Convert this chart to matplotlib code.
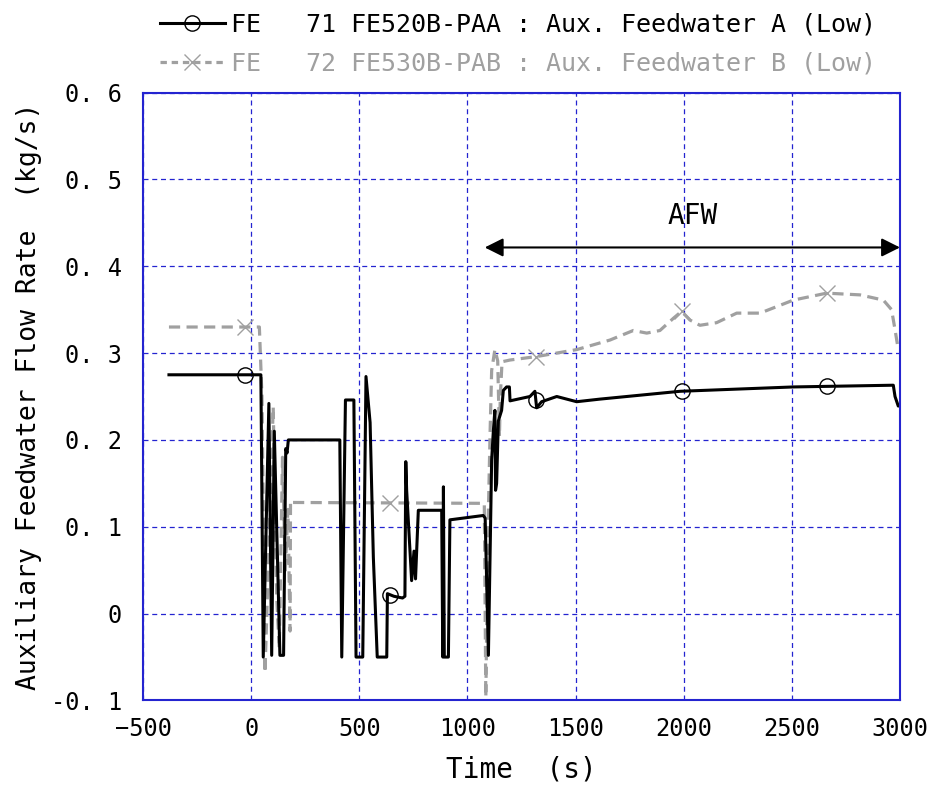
import numpy as np
import matplotlib
matplotlib.use("Agg")
import matplotlib.pyplot as plt
from matplotlib.lines import Line2D

plt.rcParams['font.family'] = ['DejaVu Sans Mono']

# FE 71 (black) and FE 72 (gray) flow rates
time_a = [-380, 45, 56, 82, 95, 107, 133, 150, 160, 166,
          172, 410, 419, 436, 475, 485, 516, 531, 550, 565,
          583, 627, 630, 660, 700, 711, 715, 719, 742, 753,
          760, 773, 881, 886, 889, 893, 912, 919, 1073, 1082,
          1097, 1112, 1120, 1127, 1130, 1135, 1143, 1158, 1166, 1181,
          1194, 1197, 1289, 1312, 1320, 1343, 1413, 1505, 1613, 1983,
          2507, 2969, 2977, 2992, 3000]
flow_a = [0.275, 0.275, -0.05, 0.242, -0.048, 0.21, -0.048, -0.048, 0.19, 0.185,
          0.2, 0.2, -0.05, 0.246, 0.246, -0.05, -0.05, 0.273, 0.22, 0.065,
          -0.05, -0.05, 0.023, 0.02, 0.018, 0.02, 0.175, 0.142, 0.038, 0.072,
          0.04, 0.119, 0.119, -0.05, 0.146, -0.05, -0.05, 0.108, 0.113, 0.11,
          -0.048, 0.177, 0.211, 0.234, 0.142, 0.15, 0.222, 0.234, 0.257, 0.261,
          0.261, 0.245, 0.25, 0.256, 0.237, 0.244, 0.25, 0.244, 0.247, 0.256,
          0.261, 0.263, 0.25, 0.239, 0.24]

time_b = [-380, 38, 50, 64, 102, 118, 130, 145, 158, 170,
          180, 182, 190, 1078, 1085, 1095, 1105, 1112, 1127, 1140,
          1148, 1152, 1160, 1197, 1320, 1505, 1659, 1767, 1829, 1890,
          1952, 1990, 2029, 2075, 2152, 2245, 2353, 2507, 2661, 2815,
          2923, 2961, 2977, 2992]
flow_b = [0.33, 0.33, 0.25, -0.068, 0.238, 0.02, -0.04, 0.18, 0.05, 0.12,
          -0.02, 0.13, 0.128, 0.127, -0.096, 0.096, 0.211, 0.28, 0.304, 0.291,
          0.204, 0.25, 0.29, 0.292, 0.296, 0.304, 0.315, 0.326, 0.323, 0.326,
          0.34, 0.348, 0.338, 0.332, 0.335, 0.346, 0.346, 0.361, 0.369, 0.367,
          0.361, 0.35, 0.327, 0.304]

marker_times = [-30, 642, 1316, 1990, 2661]

label_a = "FE   71 FE520B-PAA : Aux. Feedwater A (Low)"
label_b = "FE   72 FE530B-PAB : Aux. Feedwater B (Low)"
gray = "#a0a0a0"
blue = "#2424d0"

fig = plt.figure(figsize=(9.31, 7.90), dpi=100)
ax = fig.add_axes([0.1536, 0.1133, 0.8131, 0.7696])

ax.plot(time_b, flow_b, color=gray, lw=2.3, dashes=(3.5, 2))
ax.plot(time_a, flow_a, color="black", lw=2.2)
ax.plot(marker_times, np.interp(marker_times, time_b, flow_b), ls="none",
        marker="x", ms=11, mew=1.0, color=gray)
ax.plot(marker_times, np.interp(marker_times, time_a, flow_a), ls="none",
        marker="o", ms=11, mew=1.0, mfc="none", mec="black")

# AFW period
ax.annotate("", xy=(1080, 0.4216), xytext=(3000, 0.4216),
            arrowprops=dict(arrowstyle="<|-|>", color="black", lw=1.5,
                            mutation_scale=28, shrinkA=0, shrinkB=0))
ax.text(2043, 0.458, "AFW", ha="center", va="center", fontsize=20)

ax.set_xlim(-500, 3000)
ax.set_ylim(-0.1, 0.6)
ax.set_xticks(np.arange(-500, 3001, 500))
ax.set_yticks(np.arange(-0.1, 0.61, 0.1))
ax.set_yticklabels(["-0. 1", "0", "0. 1", "0. 2", "0. 3", "0. 4", "0. 5", "0. 6"])
ax.tick_params(axis="both", length=0, labelsize=17)
ax.tick_params(axis="y", pad=15)
ax.tick_params(axis="x", pad=12)
ax.grid(True, color=blue, lw=0.9, ls=(0, (4, 3)))
for s in ax.spines.values():
    s.set_color(blue)
    s.set_linewidth(1.5)

ax.set_xlabel("Time  (s)", fontsize=20)
ax.xaxis.set_label_coords(0.5, -0.09)
ax.set_ylabel("Auxiliary Feedwater Flow Rate  (kg/s)", fontsize=19)
ax.yaxis.set_label_coords(-0.134, 0.5)

handles = [Line2D([], [], color="black", lw=2.2, marker="o", ms=11, mfc="none", mew=1.0),
           Line2D([], [], color=gray, lw=2.3, dashes=(2, 1.5), marker="x", ms=11, mew=1.0)]
leg = fig.legend(handles, [label_a, label_b], loc="upper left",
                 bbox_to_anchor=(0.158, 1.0), frameon=False, fontsize=18,
                 handlelength=2.6, handletextpad=0.25, labelspacing=0.6,
                 borderpad=0.0)
leg.get_texts()[0].set_color("black")
leg.get_texts()[1].set_color(gray)

fig.savefig("out.png", dpi=100)
